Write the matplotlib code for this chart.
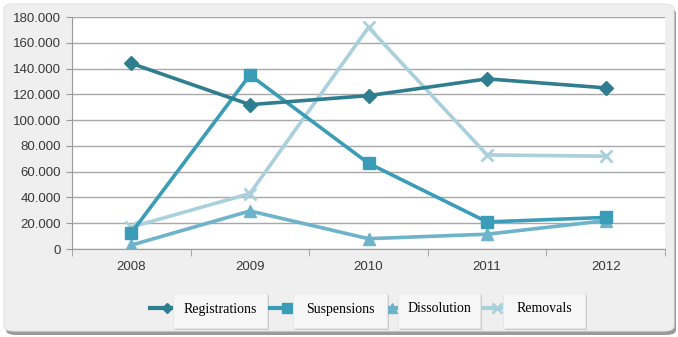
import matplotlib
matplotlib.use("Agg")
import matplotlib.pyplot as plt
from matplotlib.patches import FancyBboxPatch, Rectangle
from matplotlib.lines import Line2D
import numpy as np

years = ["2008", "2009", "2010", "2011", "2012"]
registrations = [144000, 112000, 119000, 132000, 125000]
suspensions = [12500, 135000, 66500, 21000, 24500]
dissolution = [3000, 29500, 8000, 11500, 22000]
removals = [17000, 43000, 172000, 73000, 72000]
series_names = ["Registrations", "Suspensions", "Dissolution", "Removals"]
y_ticks = [0, 20000, 40000, 60000, 80000, 100000, 120000, 140000, 160000, 180000]
y_tick_labels = ["0", "20.000", "40.000", "60.000", "80.000", "100.000",
                 "120.000", "140.000", "160.000", "180.000"]

W, H = 678, 337
fig = plt.figure(figsize=(W / 100, H / 100), dpi=100)
fig.patch.set_facecolor("white")


def fx(px):
    return px / W


def fy(py):
    return 1 - py / H


# outer panel with a soft drop shadow
shadow = FancyBboxPatch((fx(6), fy(335)), fx(670), fy(8) - fy(335),
                        boxstyle="round,pad=0,rounding_size=0.015",
                        transform=fig.transFigure, facecolor="#9a9a9a",
                        edgecolor="none", zorder=0)
panel = FancyBboxPatch((fx(4), fy(331)), fx(670), fy(4) - fy(331),
                       boxstyle="round,pad=0,rounding_size=0.015",
                       transform=fig.transFigure, facecolor="#efefef",
                       edgecolor="#e4e4e4", lw=0.8, zorder=0.5)
fig.patches.extend([shadow, panel])

ax = fig.add_axes([fx(72), fy(249), fx(665) - fx(72), fy(17) - fy(249)])
ax.set_facecolor("white")
ax.set_zorder(2)

x = np.arange(len(years))
styles = [
    dict(color="#2f7e90", marker="D", ms=7),
    dict(color="#3a9cb6", marker="s", ms=9),
    dict(color="#6db3c9", marker="^", ms=9),
    dict(color="#a9d0dc", marker="x", ms=9, mew=2),
]
data = [registrations, suspensions, dissolution, removals]
order = [3, 2, 1, 0]
for i in order:
    ax.plot(x, data[i], lw=2.6, solid_joinstyle="round", zorder=3 + (3 - i),
            **styles[i])

ax.set_xlim(-0.5, len(years) - 0.5)
ax.set_ylim(0, 180000)
ax.set_yticks(y_ticks)
ax.set_yticklabels(y_tick_labels)
ax.set_xticks(x)
ax.set_xticklabels(years)
ax.set_xticks(np.arange(-0.5, len(years), 1), minor=True)
ax.grid(axis="y", color="#a8a8a8", lw=1)
ax.set_axisbelow(True)
for s in ["top", "right"]:
    ax.spines[s].set_visible(False)
for s in ["left", "bottom"]:
    ax.spines[s].set_color("#9a9a9a")
ax.tick_params(axis="y", length=4, color="#9a9a9a", labelsize=9.5,
               labelcolor="#383838", pad=4)
ax.tick_params(axis="x", which="major", length=0, labelsize=9.5,
               labelcolor="#383838", pad=9)
ax.tick_params(axis="x", which="minor", length=5, color="#9a9a9a")
for lbl in ax.get_xticklabels() + ax.get_yticklabels():
    lbl.set_fontfamily("Liberation Sans")

# legend: a line sample followed by a boxed label for each series
legend_items = [
    (150, 173, 267),
    (267, 293, 387),
    (378, 398, 480),
    (480, 503, 585),
]
ly = 308
for i, (lx0, bx0, bx1) in enumerate(legend_items):
    st = styles[i]
    fig.add_artist(Line2D([fx(lx0), fx(bx0 - 2)], [fy(ly), fy(ly)],
                          transform=fig.transFigure, color=st["color"],
                          lw=3, zorder=3))
    fig.add_artist(Line2D([fx(bx0 - 6)], [fy(ly)], transform=fig.transFigure,
                          color=st["color"], marker=st["marker"],
                          ms=st["ms"] * 0.8, mew=st.get("mew", 1),
                          linestyle="none", zorder=3))
    fig.add_artist(Rectangle((fx(bx0 + 2), fy(330)), fx(bx1 - bx0),
                             fy(295) - fy(330), transform=fig.transFigure,
                             facecolor="#cccccc", edgecolor="none", zorder=3))
    fig.add_artist(Rectangle((fx(bx0), fy(328)), fx(bx1 - bx0),
                             fy(293) - fy(328), transform=fig.transFigure,
                             facecolor="#f6f6f6", edgecolor="#e6e6e6",
                             lw=0.6, zorder=4))
    fig.text(fx((bx0 + bx1) / 2), fy(ly + 1), series_names[i],
             ha="center", va="center", fontsize=10,
             family="Liberation Serif", color="#000000", zorder=5)

fig.savefig("out.png", dpi=100, facecolor=fig.get_facecolor())
